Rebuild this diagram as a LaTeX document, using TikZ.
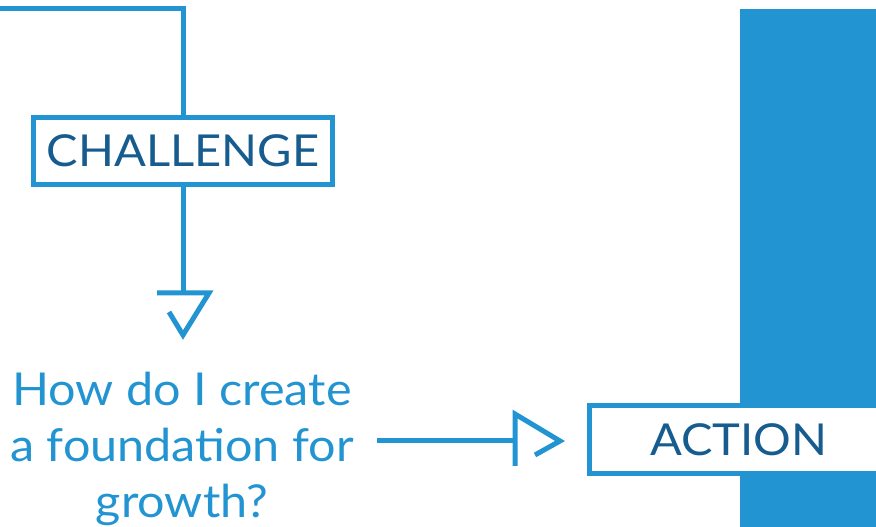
\documentclass[tikz,border=0pt]{standalone}
\usepackage{fontspec}
\setmainfont{Lato}[FakeStretch=1.07]
\definecolor{lineblue}{RGB}{35,148,210}
\definecolor{darkblue}{RGB}{22,92,142}
\begin{document}
\begin{tikzpicture}[x=0.75pt,y=-0.75pt,
  conn/.style={draw=lineblue,line width=3.75pt},
  labelbox/.style={draw=lineblue,line width=3.75pt,fill=white,text=darkblue,
    minimum width=224.25pt,minimum height=50.5pt,inner sep=0pt,
    font=\fontsize{33}{40}\selectfont},
  question/.style={text=lineblue,align=center,inner sep=0pt,
    font=\fontsize{34}{42}\selectfont}]
\useasboundingbox (0,0) rectangle (876,527);
% blue bar
\fill[lineblue] (740,9) rectangle (890,540);
% nodes
\node[labelbox] (challenge) at (183,151) {CHALLENGE};
\node[labelbox] (action) at (739,439.5) {ACTION};
\node[question] (q) at (182,449) {How do I create\\a foundation for\\growth?};
% top connector
\coordinate (start) at (-10,9);
\coordinate (corner) at (183,9);
\draw[conn] (start) -- (corner) -- (challenge.north);
% down connector with open head
\coordinate (dbar) at (183,293);
\draw[conn] (challenge.south) -- (dbar);
\draw[conn] (dbar) ++(-26,0) -- ++(52,0) -- ++(-26,42) -- ++(-14,-23);
% right connector with open head
\coordinate (hstart) at (377,441);
\coordinate (hbar) at (515,441);
\draw[conn] (hstart) -- (hbar);
\draw[conn] (hbar) ++(0,25) -- ++(0,-52) -- ++(45,27) -- ++(-25,14);
\end{tikzpicture}
\end{document}
